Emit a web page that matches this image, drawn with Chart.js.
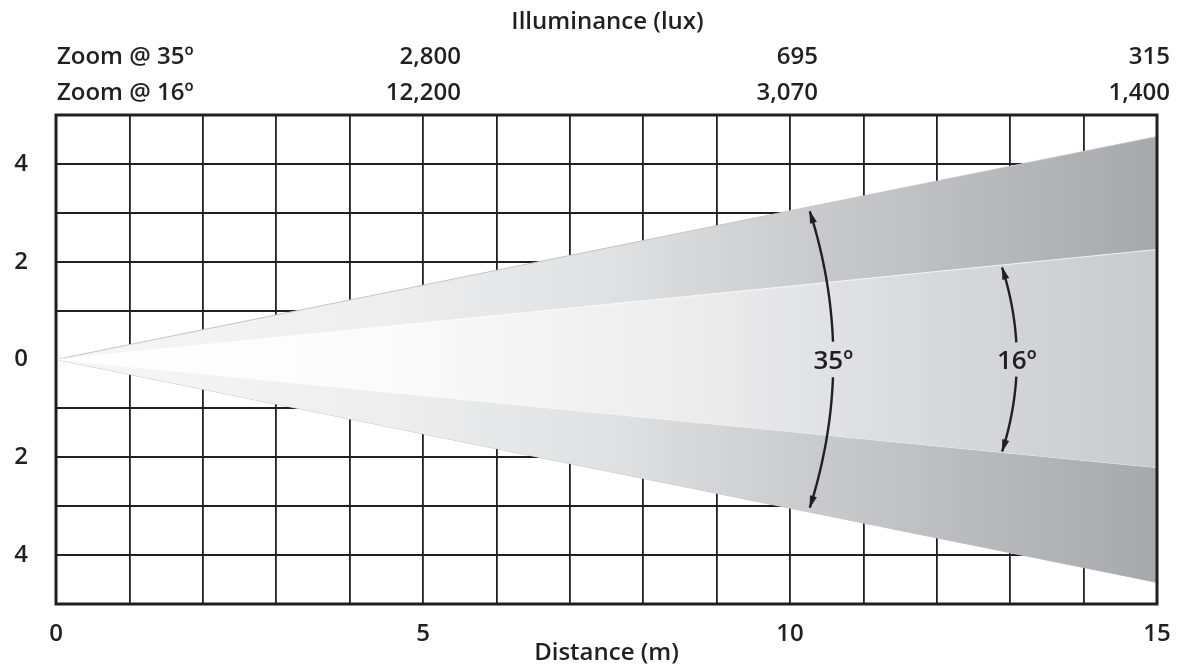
<!DOCTYPE html>
<html><head><meta charset="utf-8">
<script src="https://cdn.jsdelivr.net/npm/chart.js@4.4.0/dist/chart.umd.min.js"></script>
<style>html,body{margin:0;padding:0;background:#fff}#wrap{width:1194px;height:665px;position:relative}</style>
</head><body><div id="wrap"><canvas id="c"></canvas></div>
<script>
// ---- data ----
const distances = [0, 15];                 // m
const outerTop = [0, 4.56];                // 35° beam edge (m)
const innerTop = [0, 2.25];                // 16° beam edge (m)
const innerBottom = [0, -2.21];
const outerBottom = [0, -4.56];

const luxDistances = [5, 10, 15];
const zoom35Lux = ['2,800', '695', '315'];
const zoom16Lux = ['12,200', '3,070', '1,400'];
const rowLabels = ['Zoom @ 35º', 'Zoom @ 16º'];

const arcLabels = ['35º', '16º'];
const arcMidX = [10.59, 13.09];
const arcTipX = [10.27, 12.89];
const arcTipY = [3.03, 1.88];

// ---- style ----
const FONT = '"Open Sans", "Noto Sans", sans-serif';
const INK = '#231f20';
const FS = 24;
const FW = 600;

function pts(ys) { return distances.map((d, i) => ({x: d, y: ys[i]})); }

function gradFill(stops) {
  return (c) => {
    const a = c.chart.chartArea;
    if (!a) return 'rgba(0,0,0,0)';
    const g = c.chart.ctx.createLinearGradient(a.left, 0, a.right, 0);
    stops.forEach(s => g.addColorStop(s[0], s[1]));
    return g;
  };
}

const overlay = {
  id: 'overlay',
  afterDatasetsDraw(chart, args, opts) {
    const ctx = chart.ctx, a = chart.chartArea;
    const xs = chart.scales.x, ys = chart.scales.y;
    ctx.save();
    // frame
    ctx.strokeStyle = INK; ctx.lineWidth = 3;
    ctx.strokeRect(a.left, a.top, a.right - a.left, a.bottom - a.top);
    // arcs
    ctx.lineWidth = 2.4; ctx.strokeStyle = INK; ctx.fillStyle = INK;
    arcLabels.forEach((lab, i) => {
      const p0 = {x: xs.getPixelForValue(arcTipX[i]), y: ys.getPixelForValue(arcTipY[i])};
      const p2 = {x: xs.getPixelForValue(arcTipX[i]), y: ys.getPixelForValue(-arcTipY[i])};
      const pm = {x: xs.getPixelForValue(arcMidX[i]), y: ys.getPixelForValue(0)};
      const c = {x: 2 * pm.x - (p0.x + p2.x) / 2, y: 2 * pm.y - (p0.y + p2.y) / 2};
      const B = t => ({
        x: (1 - t) * (1 - t) * p0.x + 2 * (1 - t) * t * c.x + t * t * p2.x,
        y: (1 - t) * (1 - t) * p0.y + 2 * (1 - t) * t * c.y + t * t * p2.y
      });
      const gap = opts.gap;
      ctx.beginPath();
      let pen = false;
      for (let k = 0; k <= 300; k++) {
        const p = B(k / 300);
        if (Math.abs(p.y - pm.y) < gap) { pen = false; continue; }
        if (!pen) { ctx.moveTo(p.x, p.y); pen = true; } else ctx.lineTo(p.x, p.y);
      }
      ctx.stroke();
      [[p0, c], [p2, c]].forEach(([tip, from]) => {
        let dx = tip.x - from.x, dy = tip.y - from.y;
        const L = Math.hypot(dx, dy); dx /= L; dy /= L;
        const len = 12, hw = 3.6;
        const bx = tip.x - dx * len, by = tip.y - dy * len;
        ctx.beginPath();
        ctx.moveTo(tip.x + dx * 1, tip.y + dy * 1);
        ctx.lineTo(bx - dy * hw, by + dx * hw);
        ctx.lineTo(bx + dy * hw, by - dx * hw);
        ctx.closePath(); ctx.fill();
      });
      ctx.font = '600 26px ' + FONT;
      ctx.textAlign = 'center'; ctx.textBaseline = 'middle';
      ctx.fillText(lab, pm.x, pm.y + 2);
    });
    // header
    ctx.fillStyle = INK;
    ctx.font = FW + ' ' + FS + 'px ' + FONT;
    ctx.textBaseline = 'middle';
    ctx.textAlign = 'center';
    ctx.fillText('Illuminance (lux)', (a.left + a.right) / 2 + 1, opts.titleY);
    ctx.textAlign = 'left';
    ctx.fillText(rowLabels[0], a.left + 1, opts.row1Y);
    ctx.fillText(rowLabels[1], a.left + 1, opts.row2Y);
    ctx.textAlign = 'right';
    luxDistances.forEach((d, i) => {
      const x = xs.getPixelForValue(d) + opts.luxOffsets[i];
      ctx.fillText(zoom35Lux[i], x, opts.row1Y);
      ctx.fillText(zoom16Lux[i], x, opts.row2Y);
    });
    ctx.restore();
  }
};

new Chart(document.getElementById('c'), {
  type: 'line',
  data: {
    datasets: [
      {data: pts(innerTop), fill: 1, borderColor: 'rgba(255,255,255,0.8)', borderWidth: 1,
       backgroundColor: gradFill([[0, '#ffffff'], [0.3, '#fbfbfb'], [0.6, '#ebebec'], [0.75, '#dcdddf'], [1, '#c9cacc']])},
      {data: pts(innerBottom), fill: false, borderColor: 'rgba(255,255,255,0.8)', borderWidth: 1},
      {data: pts(outerTop), fill: 3, borderColor: '#c4c4c6', borderWidth: 1,
       backgroundColor: gradFill([[0, '#f7f7f7'], [0.3, '#eeeeef'], [0.5, '#e0e1e2'], [0.7, '#c8c9cb'], [1, '#a7a8ab']])},
      {data: pts(outerBottom), fill: false, borderColor: '#c4c4c6', borderWidth: 1}
    ]
  },
  options: {
    responsive: true, maintainAspectRatio: false, animation: false,
    layout: {padding: {top: 115, right: 37, left: 0, bottom: 0}},
    elements: {point: {radius: 0}, line: {tension: 0}},
    plugins: {
      legend: {display: false}, tooltip: {enabled: false},
      overlay: {gap: 17, titleY: 22, row1Y: 57, row2Y: 93, luxOffsets: [38, 28, 13]}
    },
    scales: {
      x: {
        type: 'linear', min: 0, max: 15,
        ticks: {stepSize: 1, autoSkip: false, maxRotation: 0, padding: 16, color: INK,
                font: {family: FONT, size: FS, weight: FW},
                callback: v => (v % 5 === 0 ? String(v) : '')},
        grid: {color: INK, lineWidth: 1.8, drawTicks: false},
        border: {display: false},
        title: {display: true, text: 'Distance (m)', color: INK, font: {family: FONT, size: FS, weight: FW},
                padding: {top: 0, bottom: -3}},
        afterFit: s => { s.height = 61; }
      },
      y: {
        type: 'linear', min: -5, max: 5,
        ticks: {stepSize: 1, autoSkip: false, padding: 28, color: INK,
                font: {family: FONT, size: FS, weight: FW},
                callback: v => (v % 2 === 0 && Math.abs(v) < 5 ? String(Math.abs(v)) : '')},
        grid: {color: c => (c.tick && c.tick.value === 0 ? 'rgba(0,0,0,0)' : INK), lineWidth: 2, drawTicks: false},
        border: {display: false},
        afterFit: s => { s.width = 56; }
      }
    }
  },
  plugins: [overlay]
});
</script>
</body></html>
